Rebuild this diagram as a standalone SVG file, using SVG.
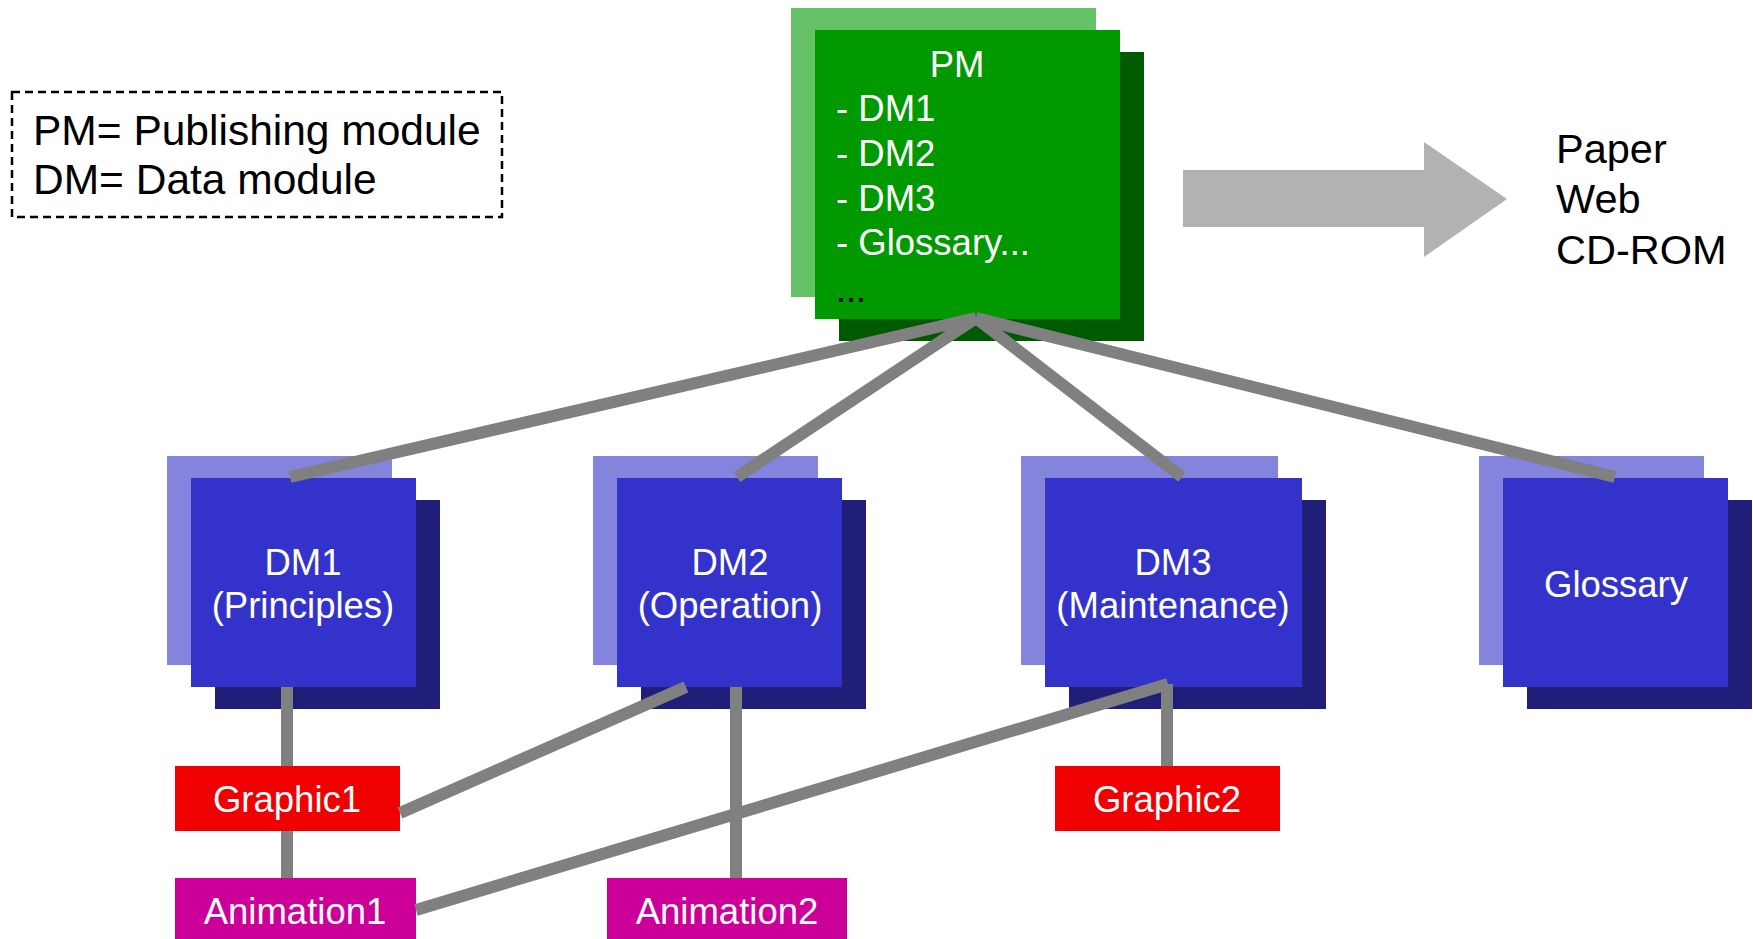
<svg xmlns="http://www.w3.org/2000/svg" width="1753" height="939" viewBox="0 0 1753 939">
  <style>
    text { font-family: "Liberation Sans", Arial, sans-serif; }
    .w { fill: #ffffff; font-size: 36.5px; }
    .k { fill: #000000; }
    .mid { text-anchor: middle; }
    .gLight { fill: #66c266; }
    .gMain { fill: #009900; }
    .gDark { fill: #005a00; }
    .bLight { fill: #8484dd; }
    .bMain { fill: #3333cc; }
    .bDark { fill: #1f1f7a; }
    .graphic { fill: #f00000; }
    .anim { fill: #cc0099; }
    .link { stroke: #808080; stroke-width: 12; fill: none; stroke-linecap: butt; }
  </style>

  <!-- legend -->
  <g id="legend">
    <rect x="12" y="92" width="490" height="125" fill="#ffffff" stroke="#000000" stroke-width="2.5" stroke-dasharray="8 5"/>
    <text class="k" x="33" y="145" font-size="42.5">PM= Publishing module</text>
    <text class="k" x="33" y="194" font-size="42.5">DM= Data module</text>
  </g>

  <!-- publishing module -->
  <g id="pm">
    <rect class="gLight" x="791" y="8" width="305" height="289"/>
    <rect class="gDark" x="839" y="52" width="305" height="289"/>
    <rect class="gMain" x="815" y="30" width="305" height="289"/>
    <text class="w mid" x="957" y="77">PM</text>
    <text class="w" x="836" y="121">- DM1</text>
    <text class="w" x="836" y="166">- DM2</text>
    <text class="w" x="836" y="211">- DM3</text>
    <text class="w" x="836" y="255">- Glossary...</text>
    <text class="k" x="836" y="302" font-size="36">...</text>
  </g>

  <!-- output arrow -->
  <g id="output-arrow">
    <polygon points="1183,170 1424,170 1424,142 1507,199 1424,257 1424,227 1183,227" fill="#b2b2b2"/>
  </g>
  <g id="outputs">
    <text class="k" x="1556" y="163" font-size="41.5">Paper</text>
    <text class="k" x="1556" y="213" font-size="41.5">Web</text>
    <text class="k" x="1556" y="264" font-size="41.5">CD-ROM</text>
  </g>

  <!-- data modules -->
  <g id="dm1">
    <rect class="bLight" x="167" y="456" width="225" height="209"/>
    <rect class="bDark" x="215" y="500" width="225" height="209"/>
    <rect class="bMain" x="191" y="478" width="225" height="209"/>
    <text class="w mid" x="303" y="575">DM1</text>
    <text class="w mid" x="303" y="618">(Principles)</text>
  </g>
  <g id="dm2">
    <rect class="bLight" x="593" y="456" width="225" height="209"/>
    <rect class="bDark" x="641" y="500" width="225" height="209"/>
    <rect class="bMain" x="617" y="478" width="225" height="209"/>
    <text class="w mid" x="730" y="575">DM2</text>
    <text class="w mid" x="730" y="618">(Operation)</text>
  </g>
  <g id="dm3">
    <rect class="bLight" x="1021" y="456" width="257" height="209"/>
    <rect class="bDark" x="1069" y="500" width="257" height="209"/>
    <rect class="bMain" x="1045" y="478" width="257" height="209"/>
    <text class="w mid" x="1173" y="575">DM3</text>
    <text class="w mid" x="1173" y="618" font-size="35.5">(Maintenance)</text>
  </g>
  <g id="glossary">
    <rect class="bLight" x="1479" y="456" width="225" height="209"/>
    <rect class="bDark" x="1527" y="500" width="225" height="209"/>
    <rect class="bMain" x="1503" y="478" width="225" height="209"/>
    <text class="w mid" x="1616" y="597">Glossary</text>
  </g>

  <!-- media objects -->
  <g id="graphic1">
    <rect class="graphic" x="175" y="766" width="225" height="65"/>
    <text class="w mid" x="287" y="812">Graphic1</text>
  </g>
  <g id="graphic2">
    <rect class="graphic" x="1055" y="766" width="225" height="65"/>
    <text class="w mid" x="1167" y="812">Graphic2</text>
  </g>
  <g id="animation1">
    <rect class="anim" x="175" y="878" width="241" height="61"/>
    <text class="w mid" x="295" y="924">Animation1</text>
  </g>
  <g id="animation2">
    <rect class="anim" x="607" y="878" width="240" height="61"/>
    <text class="w mid" x="727" y="924">Animation2</text>
  </g>

  <!-- connectors -->
  <g id="connectors">
    <line class="link" x1="976" y1="318" x2="290" y2="477"/>
    <line class="link" x1="976" y1="318" x2="737" y2="477"/>
    <line class="link" x1="976" y1="318" x2="1182" y2="477"/>
    <line class="link" x1="976" y1="318" x2="1615" y2="477"/>
    <line class="link" x1="287" y1="687" x2="287" y2="766"/>
    <line class="link" x1="287" y1="831" x2="287" y2="878"/>
    <line class="link" x1="736" y1="687" x2="736" y2="878"/>
    <line class="link" x1="400" y1="813" x2="686" y2="687"/>
    <line class="link" x1="416" y1="910" x2="1168" y2="684"/>
    <line class="link" x1="1167" y1="684" x2="1167" y2="766"/>
  </g>
</svg>
